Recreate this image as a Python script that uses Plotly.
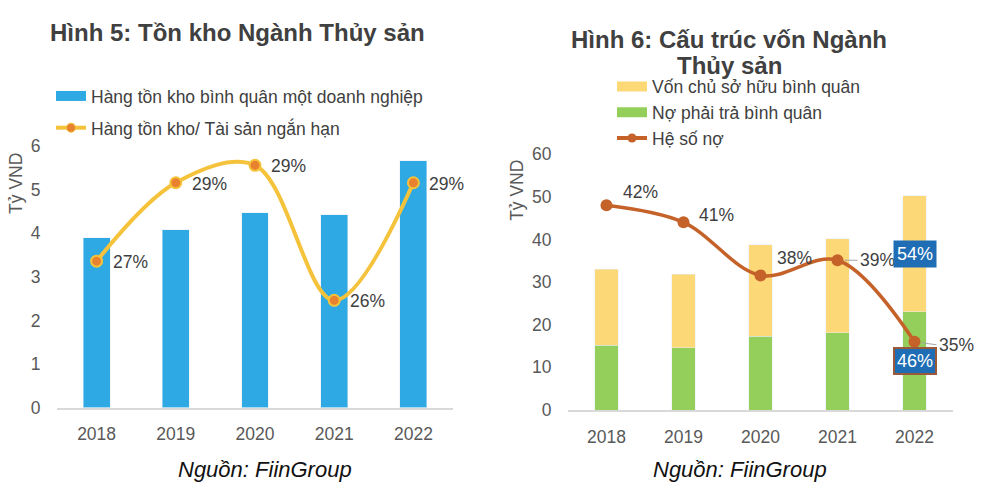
import plotly.graph_objects as go

# ---------------- data ----------------
years = [2018, 2019, 2020, 2021, 2022]
year_labels = ["2018", "2019", "2020", "2021", "2022"]

# Chart 5
inventory_avg = [3.9, 4.08, 4.47, 4.43, 5.66]          # Tỷ VND
inventory_ratio = [27.2, 29.0, 29.4, 26.3, 29.0]       # %

# Chart 6
liabilities_avg = [15.2, 14.6, 17.3, 18.1, 23.0]       # Tỷ VND
equity_avg = [17.8, 17.2, 21.5, 22.0, 27.2]            # Tỷ VND
debt_ratio = [42.2, 41.3, 38.5, 39.3, 35.0]            # %

left_y_ticks = [0, 1, 2, 3, 4, 5, 6]
right_y_ticks = [0, 10, 20, 30, 40, 50, 60]

FONT = "Arial, Liberation Sans, sans-serif"
TXT = "#404040"
TICK = "#595959"

BLUE = "#2EA9E3"
GOLD = "#F5C33B"
ORANGE = "#E8822F"
PALE = "#FCD876"
GREEN = "#95CF5B"
BROWN = "#C4622A"
BOX = "#1F6EB5"

W, H = 1000, 502
# effective drawing band observed in the browser
TOP, EFF_H = 8, 485


def py(px):
    return 1 - (px - TOP) / EFF_H


def pxx(px):
    return px / W


fig = go.Figure()

# ---------- Chart 5 ----------
fig.add_trace(go.Bar(
    x=years, y=inventory_avg, marker_color=BLUE, width=0.34,
    xaxis="x", yaxis="y", showlegend=False))
fig.add_trace(go.Scatter(
    x=years, y=inventory_ratio, mode="lines+markers",
    line=dict(color=GOLD, width=4, shape="spline", smoothing=1.0),
    marker=dict(color=ORANGE, size=11, line=dict(color=GOLD, width=2)),
    xaxis="x", yaxis="y2", showlegend=False))

# legend proxies chart 5
fig.add_trace(go.Scatter(
    x=[None], y=[None], mode="lines", line=dict(color=BLUE, width=12),
    name="Hàng tồn kho bình quân một doanh nghiệp", legend="legend",
    legendgroup="a", xaxis="x", yaxis="y"))
fig.add_trace(go.Scatter(
    x=[None], y=[None], mode="lines+markers", line=dict(color=GOLD, width=4),
    marker=dict(color=ORANGE, size=9, line=dict(color=GOLD, width=1)),
    name="Hàng tồn kho/ Tài sản ngắn hạn", legend="legend",
    legendgroup="b", xaxis="x", yaxis="y"))

# ---------- Chart 6 ----------
fig.add_trace(go.Bar(
    x=years, y=liabilities_avg, marker_color=GREEN, width=0.31,
    xaxis="x2", yaxis="y3", showlegend=False))
fig.add_trace(go.Bar(
    x=years, y=equity_avg, marker_color=PALE, width=0.31,
    xaxis="x2", yaxis="y3", showlegend=False))
fig.add_trace(go.Scatter(
    x=years, y=debt_ratio, mode="lines+markers",
    line=dict(color=BROWN, width=3.5, shape="spline", smoothing=1.0),
    marker=dict(color=BROWN, size=12),
    xaxis="x2", yaxis="y4", showlegend=False))

fig.add_trace(go.Scatter(
    x=[None], y=[None], mode="lines", line=dict(color=PALE, width=12),
    name="Vốn chủ sở hữu bình quân", legend="legend2", legendgroup="c",
    xaxis="x2", yaxis="y3"))
fig.add_trace(go.Scatter(
    x=[None], y=[None], mode="lines", line=dict(color=GREEN, width=12),
    name="Nợ phải trả bình quân", legend="legend2", legendgroup="d",
    xaxis="x2", yaxis="y3"))
fig.add_trace(go.Scatter(
    x=[None], y=[None], mode="lines+markers", line=dict(color=BROWN, width=4),
    marker=dict(color=BROWN, size=9),
    name="Hệ số nợ", legend="legend2", legendgroup="e",
    xaxis="x2", yaxis="y3"))

annotations = []
LBL = 17.5

# line labels chart 5
for yr, v in zip(years, inventory_ratio):
    annotations.append(dict(
        x=yr, y=v, xref="x", yref="y2", text=f"{round(v)}%", showarrow=False,
        xanchor="left", yanchor="middle", xshift=14, yshift=-1,
        font=dict(size=LBL, color=TXT, family=FONT)))

# line labels chart 6 (offsets per point)
label_offsets = [(14, 13, False), (13, 7, False), (14, 17, False),
                 (20, 0, True), (22, -3, True)]
for yr, v, (dx, dy, arrow) in zip(years, debt_ratio, label_offsets):
    if arrow:
        annotations.append(dict(
            x=yr, y=v, xref="x2", yref="y4", text=f"{round(v)}%",
            showarrow=True, arrowhead=0, arrowwidth=1, arrowcolor="#A6A6A6",
            ax=dx, ay=-dy, xanchor="left", yanchor="middle", standoff=7,
            font=dict(size=LBL, color=TXT, family=FONT)))
    else:
        annotations.append(dict(
            x=yr, y=v, xref="x2", yref="y4", text=f"{round(v)}%", showarrow=False,
            xanchor="left", yanchor="middle", xshift=dx, yshift=dy,
            font=dict(size=LBL, color=TXT, family=FONT)))

# stacked share labels (last year)
tot = liabilities_avg[-1] + equity_avg[-1]
annotations.append(dict(
    x=years[-1], y=liabilities_avg[-1] + equity_avg[-1] / 2, xref="x2", yref="y3",
    text=f"{round(equity_avg[-1] / tot * 100)}%", showarrow=False,
    xanchor="center", yanchor="middle",
    bgcolor=BOX, borderpad=3, font=dict(size=18, color="white", family=FONT)))
annotations.append(dict(
    x=years[-1], y=liabilities_avg[-1] / 2, xref="x2", yref="y3",
    text=f"{round(liabilities_avg[-1] / tot * 100)}%", showarrow=False,
    xanchor="center", yanchor="middle",
    bgcolor=BOX, bordercolor="#9A5A3A", borderwidth=2, borderpad=2,
    font=dict(size=18, color="white", family=FONT)))

# titles
annotations.append(dict(
    x=pxx(237), y=py(31), xref="paper", yref="paper",
    xanchor="center", yanchor="middle",
    text="<b>Hình 5: Tồn kho Ngành Thủy sản</b>", showarrow=False,
    font=dict(size=24, color=TXT, family=FONT)))
annotations.append(dict(
    x=pxx(729), y=py(38), xref="paper", yref="paper",
    xanchor="center", yanchor="middle",
    text="<b>Hình 6: Cấu trúc vốn Ngành</b>", showarrow=False,
    font=dict(size=24, color=TXT, family=FONT)))
annotations.append(dict(
    x=pxx(729), y=py(64), xref="paper", yref="paper",
    xanchor="center", yanchor="middle",
    text="<b>Thủy sản</b>", showarrow=False,
    font=dict(size=24, color=TXT, family=FONT)))

# axis titles
annotations.append(dict(
    x=pxx(16), y=py(183), xref="paper", yref="paper", text="Tỷ VND",
    xanchor="center", yanchor="middle",
    textangle=-90, showarrow=False, font=dict(size=17.5, color=TICK, family=FONT)))
annotations.append(dict(
    x=pxx(517), y=py(190), xref="paper", yref="paper", text="Tỷ VND",
    xanchor="center", yanchor="middle",
    textangle=-90, showarrow=False, font=dict(size=17.5, color=TICK, family=FONT)))

# sources
annotations.append(dict(
    x=pxx(265), y=py(470), xref="paper", yref="paper", text="<i>Nguồn: FiinGroup</i>",
    xanchor="center", yanchor="middle",
    showarrow=False, font=dict(size=22, color="#111111", family=FONT)))
annotations.append(dict(
    x=pxx(740), y=py(470), xref="paper", yref="paper", text="<i>Nguồn: FiinGroup</i>",
    xanchor="center", yanchor="middle",
    showarrow=False, font=dict(size=22, color="#111111", family=FONT)))

axis_common = dict(showgrid=False, zeroline=False)
xcommon = dict(type="linear", range=[2017.5, 2022.5], tickvals=years,
               ticktext=year_labels, showline=True, linecolor="#D9D9D9",
               linewidth=1.5, ticks="outside", ticklen=10,
               tickcolor="rgba(0,0,0,0)",
               tickfont=dict(size=17.5, color=TICK), **axis_common)
ycommon = dict(showline=False, ticks="outside", ticklen=12,
               tickcolor="rgba(0,0,0,0)",
               tickfont=dict(size=17.5, color=TICK), **axis_common)

fig.update_layout(
    width=W, height=H, margin=dict(l=0, r=0, t=0, b=0),
    paper_bgcolor="white", plot_bgcolor="white",
    barmode="stack",
    font=dict(family=FONT, color=TXT),
    xaxis=dict(domain=[pxx(57), pxx(453)], anchor="y", **xcommon),
    yaxis=dict(domain=[py(408), py(145)], anchor="x", range=[0, 6],
               tickvals=left_y_ticks, **ycommon),
    yaxis2=dict(domain=[py(408), py(145)], overlaying="y", anchor="x",
                range=[23.84, 29.84], visible=False, **axis_common),
    xaxis2=dict(domain=[pxx(568), pxx(953)], anchor="y3", **xcommon),
    yaxis3=dict(domain=[py(410.5), py(153)], anchor="x2", range=[0, 60],
                tickvals=right_y_ticks, **ycommon),
    yaxis4=dict(domain=[py(410.5), py(153)], overlaying="y3", anchor="x2",
                range=[31.4, 44.9], visible=False, **axis_common),
    legend=dict(x=pxx(51), y=py(76.5), xanchor="left", yanchor="top",
                traceorder="grouped", tracegroupgap=6, bgcolor="rgba(0,0,0,0)",
                font=dict(size=17.5, color=TXT, family=FONT)),
    legend2=dict(x=pxx(612), y=py(67), xanchor="left", yanchor="top",
                 traceorder="grouped", tracegroupgap=0, bgcolor="rgba(0,0,0,0)",
                 font=dict(size=17.5, color=TXT, family=FONT)),
    annotations=annotations,
)

fig.write_html("out.html", config={"displayModeBar": False},
               post_script="document.body.style.margin='0';")
